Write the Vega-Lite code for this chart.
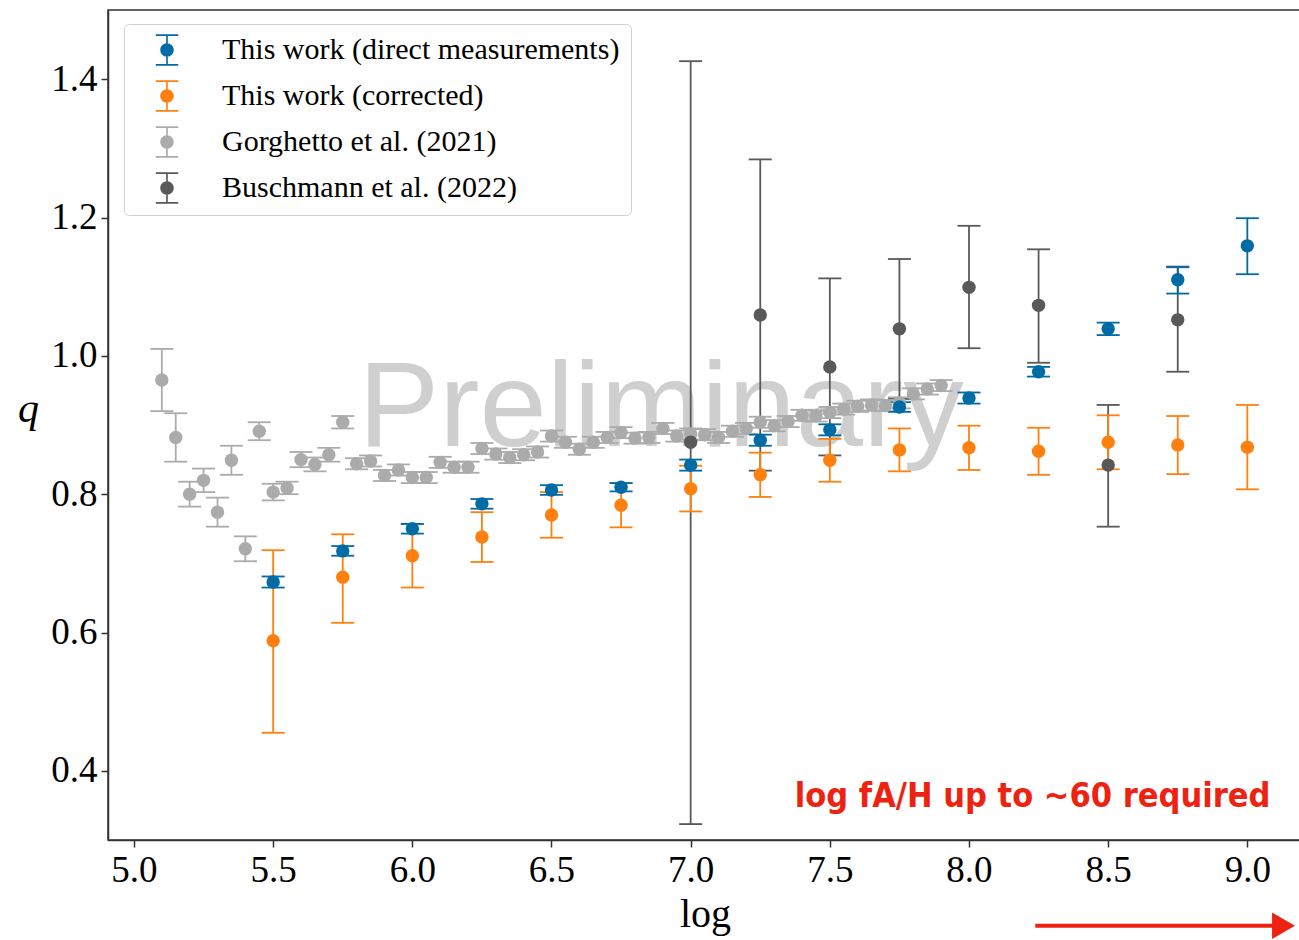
{
  "$schema": "https://vega.github.io/schema/vega-lite/v6.json",
  "width": 1195,
  "height": 830,
  "autosize": {"type": "none"},
  "padding": {"left": 108, "top": 10, "right": 0, "bottom": 100},
  "background": "white",
  "config": {
    "view": {"stroke": "#333333", "strokeWidth": 1.5},
    "axis": {
      "labelFont": "Liberation Serif",
      "labelFontSize": 37,
      "labelColor": "black",
      "tickColor": "#333333",
      "tickWidth": 1.5,
      "tickSize": 7,
      "domainColor": "#333333",
      "domainWidth": 1.5,
      "gridColor": "#e6e6e6",
      "gridWidth": 1.3,
      "titleFont": "Liberation Serif",
      "titleFontWeight": "normal",
      "titleColor": "black"
    }
  },
  "datasets": {
    "pts": [
      {"s": "G", "x": 5.10, "q": 0.965, "lo": 0.920, "hi": 1.010},
      {"s": "G", "x": 5.15, "q": 0.882, "lo": 0.847, "hi": 0.917},
      {"s": "G", "x": 5.20, "q": 0.800, "lo": 0.782, "hi": 0.818},
      {"s": "G", "x": 5.25, "q": 0.820, "lo": 0.803, "hi": 0.837},
      {"s": "G", "x": 5.30, "q": 0.774, "lo": 0.753, "hi": 0.795},
      {"s": "G", "x": 5.35, "q": 0.849, "lo": 0.828, "hi": 0.870},
      {"s": "G", "x": 5.40, "q": 0.721, "lo": 0.703, "hi": 0.739},
      {"s": "G", "x": 5.45, "q": 0.891, "lo": 0.878, "hi": 0.904},
      {"s": "G", "x": 5.50, "q": 0.803, "lo": 0.791, "hi": 0.815},
      {"s": "G", "x": 5.55, "q": 0.809, "lo": 0.800, "hi": 0.818},
      {"s": "G", "x": 5.60, "q": 0.850, "lo": 0.839, "hi": 0.861},
      {"s": "G", "x": 5.65, "q": 0.843, "lo": 0.833, "hi": 0.853},
      {"s": "G", "x": 5.70, "q": 0.857, "lo": 0.847, "hi": 0.867},
      {"s": "G", "x": 5.75, "q": 0.904, "lo": 0.895, "hi": 0.913},
      {"s": "G", "x": 5.80, "q": 0.844, "lo": 0.836, "hi": 0.852},
      {"s": "G", "x": 5.85, "q": 0.848, "lo": 0.840, "hi": 0.856},
      {"s": "G", "x": 5.90, "q": 0.827, "lo": 0.819, "hi": 0.835},
      {"s": "G", "x": 5.95, "q": 0.835, "lo": 0.827, "hi": 0.843},
      {"s": "G", "x": 6.00, "q": 0.824, "lo": 0.816, "hi": 0.832},
      {"s": "G", "x": 6.05, "q": 0.824, "lo": 0.816, "hi": 0.832},
      {"s": "G", "x": 6.10, "q": 0.846, "lo": 0.838, "hi": 0.854},
      {"s": "G", "x": 6.15, "q": 0.839, "lo": 0.831, "hi": 0.847},
      {"s": "G", "x": 6.20, "q": 0.839, "lo": 0.831, "hi": 0.847},
      {"s": "G", "x": 6.25, "q": 0.866, "lo": 0.858, "hi": 0.874},
      {"s": "G", "x": 6.30, "q": 0.858, "lo": 0.850, "hi": 0.866},
      {"s": "G", "x": 6.35, "q": 0.853, "lo": 0.845, "hi": 0.861},
      {"s": "G", "x": 6.40, "q": 0.857, "lo": 0.849, "hi": 0.865},
      {"s": "G", "x": 6.45, "q": 0.861, "lo": 0.853, "hi": 0.869},
      {"s": "G", "x": 6.50, "q": 0.884, "lo": 0.876, "hi": 0.892},
      {"s": "G", "x": 6.55, "q": 0.875, "lo": 0.867, "hi": 0.883},
      {"s": "G", "x": 6.60, "q": 0.865, "lo": 0.857, "hi": 0.873},
      {"s": "G", "x": 6.65, "q": 0.875, "lo": 0.867, "hi": 0.883},
      {"s": "G", "x": 6.70, "q": 0.882, "lo": 0.874, "hi": 0.890},
      {"s": "G", "x": 6.75, "q": 0.889, "lo": 0.881, "hi": 0.897},
      {"s": "G", "x": 6.80, "q": 0.881, "lo": 0.873, "hi": 0.889},
      {"s": "G", "x": 6.85, "q": 0.882, "lo": 0.874, "hi": 0.890},
      {"s": "G", "x": 6.90, "q": 0.895, "lo": 0.887, "hi": 0.903},
      {"s": "G", "x": 6.95, "q": 0.884, "lo": 0.876, "hi": 0.892},
      {"s": "G", "x": 7.00, "q": 0.887, "lo": 0.879, "hi": 0.895},
      {"s": "G", "x": 7.05, "q": 0.886, "lo": 0.878, "hi": 0.894},
      {"s": "G", "x": 7.10, "q": 0.882, "lo": 0.874, "hi": 0.890},
      {"s": "G", "x": 7.15, "q": 0.891, "lo": 0.883, "hi": 0.899},
      {"s": "G", "x": 7.20, "q": 0.895, "lo": 0.887, "hi": 0.903},
      {"s": "G", "x": 7.25, "q": 0.904, "lo": 0.896, "hi": 0.912},
      {"s": "G", "x": 7.30, "q": 0.899, "lo": 0.891, "hi": 0.907},
      {"s": "G", "x": 7.35, "q": 0.905, "lo": 0.897, "hi": 0.913},
      {"s": "G", "x": 7.40, "q": 0.914, "lo": 0.906, "hi": 0.922},
      {"s": "G", "x": 7.45, "q": 0.913, "lo": 0.905, "hi": 0.921},
      {"s": "G", "x": 7.50, "q": 0.918, "lo": 0.910, "hi": 0.926},
      {"s": "G", "x": 7.55, "q": 0.923, "lo": 0.915, "hi": 0.931},
      {"s": "G", "x": 7.60, "q": 0.927, "lo": 0.919, "hi": 0.935},
      {"s": "G", "x": 7.65, "q": 0.929, "lo": 0.921, "hi": 0.937},
      {"s": "G", "x": 7.70, "q": 0.928, "lo": 0.920, "hi": 0.936},
      {"s": "G", "x": 7.75, "q": 0.932, "lo": 0.924, "hi": 0.940},
      {"s": "G", "x": 7.80, "q": 0.945, "lo": 0.937, "hi": 0.953},
      {"s": "G", "x": 7.85, "q": 0.952, "lo": 0.944, "hi": 0.960},
      {"s": "G", "x": 7.90, "q": 0.957, "lo": 0.949, "hi": 0.965},
      {"s": "K", "x": 7.00, "q": 0.875, "lo": 0.323, "hi": 1.426},
      {"s": "K", "x": 7.25, "q": 1.059, "lo": 0.834, "hi": 1.284},
      {"s": "K", "x": 7.50, "q": 0.984, "lo": 0.856, "hi": 1.112},
      {"s": "K", "x": 7.75, "q": 1.039, "lo": 0.938, "hi": 1.140},
      {"s": "K", "x": 8.00, "q": 1.099, "lo": 1.011, "hi": 1.188},
      {"s": "K", "x": 8.25, "q": 1.073, "lo": 0.990, "hi": 1.154},
      {"s": "K", "x": 8.50, "q": 0.842, "lo": 0.753, "hi": 0.929},
      {"s": "K", "x": 8.75, "q": 1.052, "lo": 0.977, "hi": 1.128},
      {"s": "O", "x": 5.50, "q": 0.588, "lo": 0.455, "hi": 0.719},
      {"s": "O", "x": 5.75, "q": 0.680, "lo": 0.614, "hi": 0.742},
      {"s": "O", "x": 6.00, "q": 0.711, "lo": 0.665, "hi": 0.757},
      {"s": "O", "x": 6.25, "q": 0.738, "lo": 0.702, "hi": 0.774},
      {"s": "O", "x": 6.50, "q": 0.770, "lo": 0.737, "hi": 0.803},
      {"s": "O", "x": 6.75, "q": 0.784, "lo": 0.752, "hi": 0.816},
      {"s": "O", "x": 7.00, "q": 0.808, "lo": 0.775, "hi": 0.841},
      {"s": "O", "x": 7.25, "q": 0.828, "lo": 0.796, "hi": 0.860},
      {"s": "O", "x": 7.50, "q": 0.849, "lo": 0.818, "hi": 0.880},
      {"s": "O", "x": 7.75, "q": 0.864, "lo": 0.833, "hi": 0.895},
      {"s": "O", "x": 8.00, "q": 0.867, "lo": 0.835, "hi": 0.899},
      {"s": "O", "x": 8.25, "q": 0.862, "lo": 0.828, "hi": 0.896},
      {"s": "O", "x": 8.50, "q": 0.875, "lo": 0.836, "hi": 0.914},
      {"s": "O", "x": 8.75, "q": 0.871, "lo": 0.829, "hi": 0.913},
      {"s": "O", "x": 9.00, "q": 0.868, "lo": 0.807, "hi": 0.929},
      {"s": "B", "x": 5.50, "q": 0.673, "lo": 0.665, "hi": 0.681},
      {"s": "B", "x": 5.75, "q": 0.718, "lo": 0.711, "hi": 0.725},
      {"s": "B", "x": 6.00, "q": 0.750, "lo": 0.743, "hi": 0.757},
      {"s": "B", "x": 6.25, "q": 0.786, "lo": 0.779, "hi": 0.793},
      {"s": "B", "x": 6.50, "q": 0.806, "lo": 0.799, "hi": 0.813},
      {"s": "B", "x": 6.75, "q": 0.810, "lo": 0.804, "hi": 0.816},
      {"s": "B", "x": 7.00, "q": 0.842, "lo": 0.834, "hi": 0.850},
      {"s": "B", "x": 7.25, "q": 0.878, "lo": 0.870, "hi": 0.886},
      {"s": "B", "x": 7.50, "q": 0.893, "lo": 0.885, "hi": 0.901},
      {"s": "B", "x": 7.75, "q": 0.926, "lo": 0.919, "hi": 0.933},
      {"s": "B", "x": 8.00, "q": 0.939, "lo": 0.931, "hi": 0.947},
      {"s": "B", "x": 8.25, "q": 0.977, "lo": 0.970, "hi": 0.984},
      {"s": "B", "x": 8.50, "q": 1.039, "lo": 1.030, "hi": 1.048},
      {"s": "B", "x": 8.75, "q": 1.110, "lo": 1.090, "hi": 1.129},
      {"s": "B", "x": 9.00, "q": 1.159, "lo": 1.118, "hi": 1.199}
    ]
  },
  "layer": [
    {
      "data": {"values": [{"label": "Preliminary"}]},
      "mark": {"type": "text", "font": "Liberation Sans", "fontSize": 121, "color": "#cfcfcf", "align": "center", "baseline": "alphabetic"},
      "encoding": {
        "x": {"datum": 6.894, "type": "quantitative", "scale": {"domain": [4.9066, 9.2], "nice": false, "zero": false}, "axis": {"values": [5.0, 5.5, 6.0, 6.5, 7.0, 7.5, 8.0, 8.5, 9.0], "format": ".1f", "labelPadding": 5, "title": "log", "titleFontSize": 40, "titleX": 597, "titleY": 86, "titleBaseline": "alphabetic", "titleAlign": "center"}},
        "y": {"datum": 0.870, "type": "quantitative", "scale": {"domain": [0.3, 1.5], "nice": false, "zero": false}, "axis": {"values": [0.4, 0.6, 0.8, 1.0, 1.2, 1.4], "format": ".1f", "labelPadding": 4, "title": "q", "titleFontSize": 42, "titleFontStyle": "italic", "titleAngle": 0, "titleX": -80, "titleY": 398, "titleBaseline": "middle", "titleAlign": "center"}},
        "text": {"field": "label"}
      }
    },
    {
      "data": {"name": "pts"},
      "mark": {"type": "rule", "strokeWidth": 1.8, "opacity": 1},
      "encoding": {
        "x": {"field": "x", "type": "quantitative"},
        "y": {"field": "lo", "type": "quantitative"},
        "y2": {"field": "hi"},
        "color": {"field": "s", "type": "nominal"}
      }
    },
    {
      "data": {"name": "pts"},
      "mark": {"type": "tick", "orient": "horizontal", "size": 23, "thickness": 1.8, "opacity": 1},
      "encoding": {
        "x": {"field": "x", "type": "quantitative"},
        "y": {"field": "lo", "type": "quantitative"},
        "color": {"field": "s", "type": "nominal"}
      }
    },
    {
      "data": {"name": "pts"},
      "mark": {"type": "tick", "orient": "horizontal", "size": 23, "thickness": 1.8, "opacity": 1},
      "encoding": {
        "x": {"field": "x", "type": "quantitative"},
        "y": {"field": "hi", "type": "quantitative"},
        "color": {"field": "s", "type": "nominal"}
      }
    },
    {
      "data": {"name": "pts"},
      "mark": {"type": "point", "filled": true, "shape": "circle", "size": 180, "opacity": 1, "strokeWidth": 0},
      "encoding": {
        "x": {"field": "x", "type": "quantitative"},
        "y": {"field": "q", "type": "quantitative"},
        "color": {
          "field": "s", "type": "nominal",
          "scale": {"domain": ["B", "O", "G", "K"], "range": ["#006BA4", "#FF800E", "#ABABAB", "#595959"]},
          "legend": {
            "title": null,
            "orient": "none",
            "legendX": 16,
            "legendY": 14,
            "symbolType": "M-0.75,-1.05H0.75V-0.94H-0.75Z M-0.75,0.94H0.75V1.05H-0.75Z M-0.055,-1H0.055V1H-0.055Z M0,-0.45A0.45,0.45 0 1,1 0,0.45A0.45,0.45 0 1,1 0,-0.45Z",
            "symbolSize": 900,
            "symbolStrokeWidth": 0,
            "symbolOpacity": 1,
            "symbolOffset": 17,
            "labelFont": "Liberation Serif",
            "labelFontSize": 30,
            "labelColor": "black",
            "labelOffset": 40,
            "labelLimit": 700,
            "rowPadding": 14,
            "padding": 11,
            "strokeColor": "#d0d0d0",
            "fillColor": "white",
            "cornerRadius": 5,
            "labelExpr": "datum.value == 'B' ? 'This work (direct measurements)' : datum.value == 'O' ? 'This work (corrected)' : datum.value == 'G' ? 'Gorghetto et al. (2021)' : 'Buschmann et al. (2022)'"
          }
        }
      }
    },
    {
      "data": {"values": [{"label": "log fA/H up to ~60 required"}]},
      "mark": {"type": "text", "font": "'DejaVu Sans Condensed', 'Liberation Sans'", "fontWeight": "bold", "fontSize": 34, "color": "#EE2211", "align": "right", "baseline": "alphabetic"},
      "encoding": {
        "x": {"datum": 9.083, "type": "quantitative"},
        "y": {"datum": 0.348, "type": "quantitative"},
        "text": {"field": "label"}
      }
    },
    {
      "data": {"values": [{"a": 1}]},
      "mark": {"type": "rule", "color": "#EE2211", "strokeWidth": 4},
      "encoding": {
        "x": {"datum": 8.238, "type": "quantitative"},
        "x2": {"datum": 9.1},
        "y": {"datum": 0.176, "type": "quantitative"}
      }
    },
    {
      "data": {"values": [{"a": 1}]},
      "mark": {"type": "point", "shape": "triangle-right", "filled": true, "color": "#EE2211", "size": 700, "opacity": 1, "strokeWidth": 0},
      "encoding": {
        "x": {"datum": 9.13, "type": "quantitative"},
        "y": {"datum": 0.176, "type": "quantitative"}
      }
    }
  ]
}
